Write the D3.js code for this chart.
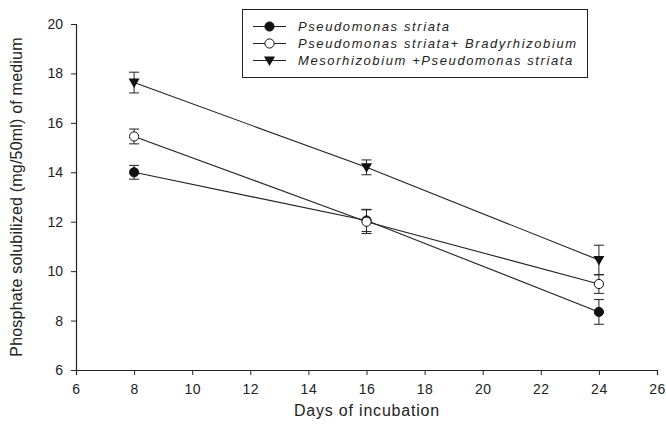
<!DOCTYPE html>
<html>
<head>
<meta charset="utf-8">
<script src="https://cdn.jsdelivr.net/npm/d3@7"></script>
<style>
  body { margin: 0; background: #fff; }
  text { font-family: "Liberation Sans", Arial, sans-serif; fill: #222; }
</style>
</head>
<body>
<svg id="chart"></svg>
<script>
const width = 666;
const height = 428;

const days = [8, 16, 24];
const seriesNames = [
    "Pseudomonas striata",
    "Pseudomonas striata+ Bradyrhizobium",
    "Mesorhizobium +Pseudomonas striata"
];
const psValues = [14.0, 12.05, 8.35];
const psErrors = [0.28, 0.45, 0.5];
const psbValues = [15.45, 12.0, 9.48];
const psbErrors = [0.3, 0.48, 0.38];
const mpsValues = [17.63, 14.2, 10.45];
const mpsErrors = [0.42, 0.3, 0.6];
const xTicks = [6, 8, 10, 12, 14, 16, 18, 20, 22, 24, 26];
const yTicks = [6, 8, 10, 12, 14, 16, 18, 20];

const series = [
    {name: seriesNames[0], values: psValues, errors: psErrors, symbol: "filled"},
    {name: seriesNames[1], values: psbValues, errors: psbErrors, symbol: "open"},
    {name: seriesNames[2], values: mpsValues, errors: mpsErrors, symbol: "triangle"}
];

const svg = d3.select("#chart")
    .attr("width", width)
    .attr("height", height);

const x = d3.scaleLinear().domain([6, 26]).range([76, 657]);
const y = d3.scaleLinear().domain([6, 20]).range([370, 24]);

// axes
const xAxis = svg.append("g")
    .attr("transform", `translate(0,${y(6)})`)
    .call(d3.axisBottom(x).tickValues(xTicks).tickSize(5).tickPadding(9));
const yAxis = svg.append("g")
    .attr("transform", `translate(${x(6)},0)`)
    .call(d3.axisLeft(y).tickValues(yTicks).tickSize(5).tickPadding(8));

[xAxis, yAxis].forEach(a => {
    a.select(".domain").attr("stroke", "#222").attr("stroke-width", 1.2);
    a.selectAll(".tick line").attr("stroke", "#222");
    a.selectAll(".tick text")
        .attr("font-size", 14)
        .attr("fill", "#222")
        .style("font-family", "'Liberation Sans', Arial, sans-serif");
});
xAxis.selectAll(".tick text").attr("letter-spacing", "0.5px");

// axis titles
svg.append("text")
    .attr("x", 367)
    .attr("y", 416)
    .attr("text-anchor", "middle")
    .attr("font-size", 16)
    .attr("letter-spacing", "0.8px")
    .text("Days of incubation");

svg.append("text")
    .attr("transform", `translate(22,${197}) rotate(-90)`)
    .attr("text-anchor", "middle")
    .attr("font-size", 16)
    .attr("letter-spacing", "0.2px")
    .text("Phosphate solubilized (mg/50ml) of medium");

const line = d3.line()
    .x((d, i) => x(days[i]))
    .y(d => y(d));

// lines
series.forEach(s => {
    svg.append("path")
        .datum(s.values)
        .attr("d", line)
        .attr("fill", "none")
        .attr("stroke", "#222")
        .attr("stroke-width", 1.1);
});

// error bars
const cap = 5;
series.forEach(s => {
    const g = svg.append("g").attr("stroke", "#222").attr("stroke-width", 1);
    s.values.forEach((v, i) => {
        const cx = x(days[i]);
        const top = y(v + s.errors[i]);
        const bot = y(v - s.errors[i]);
        g.append("line").attr("x1", cx).attr("x2", cx).attr("y1", top).attr("y2", bot);
        g.append("line").attr("x1", cx - cap).attr("x2", cx + cap).attr("y1", top).attr("y2", top);
        g.append("line").attr("x1", cx - cap).attr("x2", cx + cap).attr("y1", bot).attr("y2", bot);
    });
});

function drawSymbol(g, type, cx, cy) {
    if (type === "triangle") {
        g.append("path")
            .attr("d", `M${cx - 5.5},${cy - 4} L${cx + 5.5},${cy - 4} L${cx},${cy + 5.5} Z`)
            .attr("fill", "#111");
    } else {
        g.append("circle")
            .attr("cx", cx).attr("cy", cy).attr("r", 4.6)
            .attr("fill", type === "filled" ? "#111" : "#fff")
            .attr("stroke", "#111")
            .attr("stroke-width", 1);
    }
}

// markers
series.forEach(s => {
    const g = svg.append("g");
    s.values.forEach((v, i) => drawSymbol(g, s.symbol, x(days[i]), y(v)));
});

// legend
const legend = svg.append("g");
legend.append("rect")
    .attr("x", 242.5).attr("y", 9.5)
    .attr("width", 345).attr("height", 68)
    .attr("fill", "#fff")
    .attr("stroke", "#222")
    .attr("stroke-width", 1);

series.forEach((s, i) => {
    const ly = 26.5 + i * 17;
    legend.append("line")
        .attr("x1", 253).attr("x2", 286)
        .attr("y1", ly).attr("y2", ly)
        .attr("stroke", "#222").attr("stroke-width", 1.1);
    drawSymbol(legend, s.symbol, 269.5, ly);
    legend.append("text")
        .attr("x", 298)
        .attr("y", ly + 4.5)
        .attr("font-size", 13)
        .attr("font-style", "italic")
        .attr("letter-spacing", "1.6px")
        .text(s.name);
});
</script>
</body>
</html>
